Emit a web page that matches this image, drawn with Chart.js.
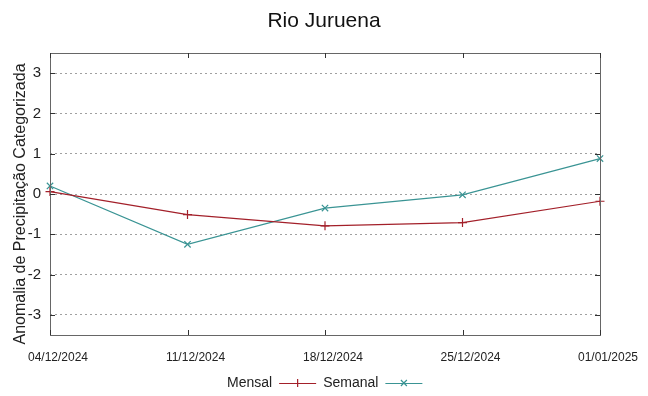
<!DOCTYPE html>
<html>
<head>
<meta charset="utf-8">
<script src="https://cdn.jsdelivr.net/npm/chart.js@4/dist/chart.umd.min.js"></script>
<style>
  html, body { margin: 0; padding: 0; background: #fff; }
  #wrap { width: 648px; height: 396px; }
</style>
</head>
<body>
<div id="wrap"><canvas id="chart" width="648" height="396"></canvas></div>
<script>
// ── Data ──
const dates   = ['04/12/2024', '11/12/2024', '18/12/2024', '25/12/2024', '01/01/2025'];
const mensal  = [0.06, -0.51, -0.79, -0.71, -0.18];
const semanal = [0.20, -1.25, -0.35, -0.02, 0.88];
const yTicks  = [-3, -2, -1, 0, 1, 2, 3];

const chartTitle = 'Rio Juruena';
const yTitle     = 'Anomalia de Precipitação Categorizada';

const FONT = '"Liberation Sans", Arial, sans-serif';
const RED  = '#a3202a';
const TEAL = '#3a9494';

// ── gnuplot style frame: titles, border, inward ticks on all sides, legend ──
const framePlugin = {
  id: 'frame',
  afterDraw(chart){
    const {ctx, chartArea: a, scales: {x, y}} = chart;
    ctx.save();

    // titles
    ctx.fillStyle = '#111';
    ctx.font = '21px ' + FONT;
    ctx.textAlign = 'center';
    ctx.textBaseline = 'alphabetic';
    ctx.fillText(chartTitle, 324, 27);

    ctx.fillStyle = '#222';
    ctx.font = '16px ' + FONT;
    ctx.translate(25, 204);
    ctx.rotate(-Math.PI / 2);
    ctx.fillText(yTitle, 0, 0);
    ctx.setTransform(1, 0, 0, 1, 0, 0);

    // border + ticks
    ctx.strokeStyle = '#666';
    ctx.lineWidth = 1;
    ctx.strokeRect(a.left + 0.5, a.top + 0.5, a.right - a.left, a.bottom - a.top);
    ctx.strokeStyle = '#333';
    ctx.beginPath();
    yTicks.forEach(v => {
      const py = Math.round(y.getPixelForValue(v)) + 0.5;
      ctx.moveTo(a.left, py);  ctx.lineTo(a.left + 5, py);
      ctx.moveTo(a.right, py); ctx.lineTo(a.right - 5, py);
    });
    dates.forEach((d, i) => {
      const px = Math.round(x.getPixelForValue(i)) + 0.5;
      ctx.moveTo(px, a.bottom); ctx.lineTo(px, a.bottom - 5);
      ctx.moveTo(px, a.top);    ctx.lineTo(px, a.top + 5);
    });
    ctx.stroke();

    // legend: text then line sample with marker
    ctx.font = '14px ' + FONT;
    ctx.textBaseline = 'middle';
    ctx.fillStyle = '#222';
    const ly = 383;
    let lx = 227;
    chart.data.datasets.forEach(ds => {
      ctx.textAlign = 'left';
      ctx.fillText(ds.label, lx, ly);
      lx += ctx.measureText(ds.label).width + 7;
      ctx.strokeStyle = ds.borderColor;
      ctx.lineWidth = 1.2;
      ctx.beginPath();
      ctx.moveTo(lx, ly + 0.5); ctx.lineTo(lx + 37, ly + 0.5);
      const cx = lx + 18.5, r = 4;
      if(ds.pointStyle === 'cross'){
        ctx.moveTo(cx, ly - r); ctx.lineTo(cx, ly + r);
      } else {
        ctx.moveTo(cx - 3, ly - 3); ctx.lineTo(cx + 3, ly + 3);
        ctx.moveTo(cx - 3, ly + 3); ctx.lineTo(cx + 3, ly - 3);
      }
      ctx.stroke();
      lx += 37 + 7;
    });
    ctx.restore();
  }
};

new Chart(document.getElementById('chart'), {
  type: 'line',
  data: {
    labels: dates,
    datasets: [
      {
        label: 'Mensal',
        data: mensal,
        borderColor: RED,
        borderWidth: 1.2,
        pointStyle: 'cross',
        pointRadius: 4.5,
        pointBorderColor: RED,
        pointBorderWidth: 1.2,
        tension: 0,
        fill: false
      },
      {
        label: 'Semanal',
        data: semanal,
        borderColor: TEAL,
        borderWidth: 1.2,
        pointStyle: 'crossRot',
        pointRadius: 4.5,
        pointBorderColor: TEAL,
        pointBorderWidth: 1.2,
        tension: 0,
        fill: false
      }
    ]
  },
  options: {
    responsive: false,
    animation: false,
    layout: { padding: { left: 0, right: 48, top: 53, bottom: 31 } },
    plugins: {
      legend: { display: false },
      tooltip: { enabled: false },
      title: { display: false }
    },
    scales: {
      x: {
        type: 'category',
        offset: false,
        grid: { display: false, drawTicks: false },
        border: { display: false },
        ticks: {
          color: '#222',
          font: { family: FONT, size: 12 },
          padding: 15,
          labelOffset: 8,
          maxRotation: 0,
          autoSkip: false
        },
        afterFit: s => { s.height = 30; }
      },
      y: {
        min: -3.5,
        max: 3.5,
        afterBuildTicks: s => { s.ticks = yTicks.map(v => ({ value: v })); },
        grid: {
          color: '#a0a0a0',
          lineWidth: 1,
          drawTicks: false
        },
        border: { display: false, dash: [2, 3] },
        ticks: {
          color: '#222',
          font: { family: FONT, size: 15 },
          padding: 9
        },
        afterFit: s => { s.width = 50; }
      }
    }
  },
  plugins: [framePlugin]
});
</script>
</body>
</html>
